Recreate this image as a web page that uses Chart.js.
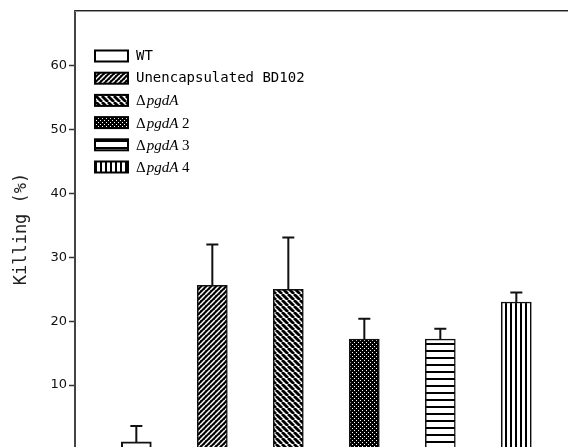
<!DOCTYPE html>
<html><head><meta charset="utf-8">
<script src="https://cdn.jsdelivr.net/npm/chart.js@4/dist/chart.umd.min.js"></script>
<style>html,body{margin:0;padding:0;background:#fff}#wrap{width:568px;height:447px}</style>
</head><body><div id="wrap"><canvas id="c" width="568" height="447"></canvas></div>
<script>
// Strains and their killing percentages (mean and upper deviation)
const strains = ['WT', 'Unencapsulated BD102', 'ΔpgdA', 'ΔpgdA 2', 'ΔpgdA 3', 'ΔpgdA 4'];
const killing = [1.1, 25.6, 25.0, 17.2, 17.2, 23.0];
const killingSD = [2.5, 6.4, 8.1, 3.2, 1.6, 1.5];
const yTicks = [10, 20, 30, 40, 50, 60];
const fillKinds = ['plain', 'slash', 'backslash', 'dots', 'hlines', 'vlines'];

// Monochrome hatch fills
function makePattern(kind) {
  const t = document.createElement('canvas');
  const ctx = t.getContext('2d');
  let w = 6, h = 6;
  if (kind === 'slash') { w = h = 5; }
  if (kind === 'backslash') { w = h = 6; }
  if (kind === 'dots') { w = h = 4; }
  if (kind === 'hlines') { w = 4; h = 7; }
  if (kind === 'vlines') { w = 5; h = 4; }
  t.width = w; t.height = h;
  ctx.fillStyle = '#fff';
  ctx.fillRect(0, 0, w, h);
  ctx.strokeStyle = '#000';
  ctx.fillStyle = '#000';
  if (kind === 'slash') {
    ctx.fillStyle = '#000'; ctx.fillRect(0, 0, w, h);
    ctx.strokeStyle = '#fff'; ctx.lineWidth = 1.5;
    for (const o of [-w, 0, w]) { ctx.beginPath(); ctx.moveTo(o, h); ctx.lineTo(o + w, 0); ctx.stroke(); }
  } else if (kind === 'backslash') {
    ctx.lineWidth = 2.8;
    for (const o of [-w, 0, w]) { ctx.beginPath(); ctx.moveTo(o, 0); ctx.lineTo(o + w, h); ctx.stroke(); }
  } else if (kind === 'dots') {
    ctx.fillRect(0, 0, w, h);
    ctx.fillStyle = '#fff';
    ctx.fillRect(0, 0, 1, 1);
    ctx.fillRect(2, 2, 1, 1);
  } else if (kind === 'hlines') {
    ctx.fillRect(0, 0, w, 2);
  } else if (kind === 'vlines') {
    ctx.fillRect(0, 0, 2, h);
  }
  return ctx.createPattern(t, 'repeat');
}

const fills = fillKinds.map(k => k === 'plain' ? '#ffffff' : makePattern(k));

// Upper error whiskers
const errorBars = {
  id: 'errorBars',
  afterDatasetsDraw(chart) {
    const ctx = chart.ctx;
    const y = chart.scales.y;
    const meta = chart.getDatasetMeta(0);
    ctx.save();
    ctx.strokeStyle = '#111';
    ctx.lineWidth = 2;
    meta.data.forEach((bar, i) => {
      const top = y.getPixelForValue(killing[i] + killingSD[i]);
      ctx.beginPath();
      ctx.moveTo(bar.x, bar.y);
      ctx.lineTo(bar.x, top);
      ctx.moveTo(bar.x - 6, top);
      ctx.lineTo(bar.x + 6, top);
      ctx.stroke();
    });
    ctx.restore();
  }
};

// Frame line along the top of the plot
const topFrame = {
  id: 'topFrame',
  afterDraw(chart) {
    const { ctx, chartArea: a } = chart;
    ctx.save();
    ctx.fillStyle = '#222';
    ctx.fillRect(a.left, a.top - 1, a.right - a.left, 1);
    ctx.fillStyle = '#999';
    ctx.fillRect(a.left, a.top, a.right - a.left, 1);
    ctx.restore();
  }
};

// Legend with patterned swatches; strain names set with italic gene symbol
const strainLegend = {
  id: 'strainLegend',
  afterDraw(chart) {
    const ctx = chart.ctx;
    ctx.save();
    const bx = 95, bw = 33, bh = 11, tx = 136;
    strains.forEach((name, i) => {
      const cy = 56 + i * 22.2;
      ctx.fillStyle = fills[i];
      ctx.fillRect(bx, cy - bh / 2, bw, bh);
      ctx.strokeStyle = '#000';
      ctx.lineWidth = 2;
      ctx.strokeRect(bx, cy - bh / 2, bw, bh);
      ctx.fillStyle = '#000';
      ctx.textBaseline = 'middle';
      ctx.textAlign = 'left';
      if (name.startsWith('Δ')) {
        let x = tx;
        ctx.font = '15px "Liberation Serif"';
        ctx.fillText('Δ', x, cy + 1);
        x += ctx.measureText('Δ').width + 1;
        ctx.font = 'italic 15px "Liberation Serif"';
        ctx.fillText('pgdA', x, cy + 1);
        x += ctx.measureText('pgdA').width;
        ctx.font = '15px "Liberation Serif"';
        ctx.fillText(name.slice(5), x, cy + 1);
      } else {
        ctx.font = '14px "DejaVu Sans Mono"';
        ctx.fillText(name, tx, cy);
      }
    });
    ctx.restore();
  }
};

new Chart(document.getElementById('c'), {
  type: 'bar',
  data: {
    datasets: [{
      label: 'Killing (%)',
      data: killing.map((v, i) => ({ x: i + 1, y: v })),
      backgroundColor: fills,
      borderColor: '#111',
      borderWidth: [2, 1.5, 1.5, 1.5, 1.5, 1.5],
      barThickness: 30
    }]
  },
  options: {
    responsive: false,
    devicePixelRatio: 1,
    animation: false,
    layout: { padding: { top: 11, left: 0, right: 0, bottom: 0 } },
    plugins: { legend: { display: false }, tooltip: { enabled: false } },
    scales: {
      x: { type: 'linear', display: false, min: 0.193, max: 6.68, offset: false },
      y: {
        min: 0.3, max: 68.57,
        afterBuildTicks: s => { s.ticks = yTicks.map(v => ({ value: v })); },
        afterFit: s => { s.width = 75; s.paddingTop = 0; s.paddingBottom = 0; },
        grid: { drawOnChartArea: false, drawTicks: true, tickLength: 6, tickWidth: 1.5, tickColor: '#333' },
        border: { display: true, color: '#444', width: 2 },
        ticks: { color: '#111', font: { family: 'DejaVu Sans', size: 13 }, padding: 2 },
        title: {
          display: true, text: 'Killing (%)', color: '#222',
          font: { family: 'DejaVu Sans Mono', size: 17 },
          padding: { top: 11, bottom: 0 }
        }
      }
    }
  },
  plugins: [errorBars, topFrame, strainLegend]
});
</script></body></html>
